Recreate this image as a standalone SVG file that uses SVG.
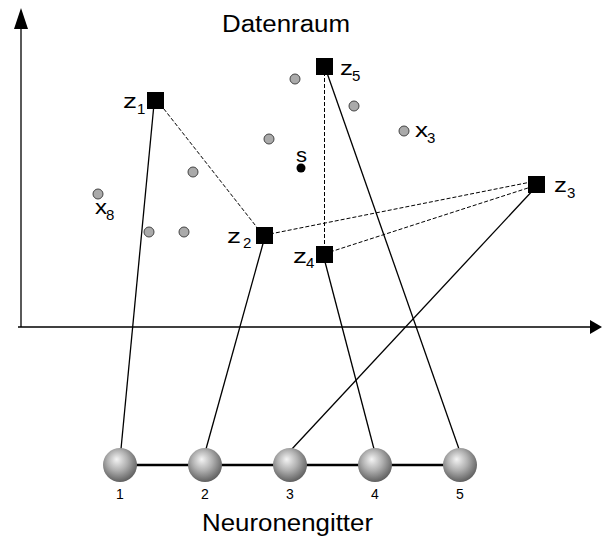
<svg xmlns="http://www.w3.org/2000/svg" width="602" height="541" viewBox="0 0 602 541">
<style>
text{font-family:"Liberation Sans",Arial,sans-serif;fill:#000}
.t{font-size:23px}
.z{font-size:21px}
.sub{font-size:15px}
.n{font-size:14px;text-anchor:middle}
.sol{stroke:#000;stroke-width:1.3;fill:none}
.dash{stroke:#000;stroke-width:1;stroke-dasharray:4 2;fill:none}
.dot{fill:#aaa;stroke:#444;stroke-width:1}
.sq{fill:#000}
.sph{fill:url(#g)}
</style>
<defs>
<radialGradient id="g" cx="0.45" cy="0.4" r="0.6" fx="0.4" fy="0.33">
<stop offset="0" stop-color="#f4f4f4"/>
<stop offset="0.5" stop-color="#b0b0b0"/>
<stop offset="1" stop-color="#606060"/>
</radialGradient>
</defs>
<g id="axes">
<line x1="21" y1="26" x2="21" y2="327" stroke="#000" stroke-width="1.3"/>
<polygon points="21,8 14,29 28,29" fill="#000"/>
<line x1="18" y1="327" x2="592" y2="327" stroke="#000" stroke-width="1.3"/>
<polygon points="602,327 590,320 590,334" fill="#000"/>
</g>
<text class="t" x="222" y="32" textLength="128" lengthAdjust="spacingAndGlyphs">Datenraum</text>
<text class="t" x="202" y="531" textLength="171" lengthAdjust="spacingAndGlyphs">Neuronengitter</text>
<g id="connectors">
<line class="sol" x1="154" y1="104" x2="121" y2="449"/>
<line class="sol" x1="264" y1="240" x2="206" y2="449"/>
<line class="sol" x1="324" y1="258" x2="374" y2="449"/>
<line class="sol" x1="326" y1="70" x2="459" y2="449"/>
<line class="sol" x1="535" y1="188" x2="291" y2="450"/>
<line class="dash" x1="160" y1="104" x2="259" y2="230"/>
<line class="dash" x1="324.5" y1="72" x2="324.5" y2="248"/>
<line class="dash" x1="270" y1="234" x2="531" y2="182"/>
<line class="dash" x1="330" y1="252" x2="531" y2="187"/>
<line x1="120" y1="465" x2="460" y2="465" stroke="#000" stroke-width="2.5"/>
</g>
<g id="points">
<circle class="dot" cx="295" cy="79" r="5"/>
<circle class="dot" cx="354" cy="106" r="5"/>
<circle class="dot" cx="269" cy="139" r="5"/>
<circle class="dot" cx="404" cy="131" r="5"/>
<circle class="dot" cx="193" cy="172" r="5"/>
<circle class="dot" cx="98" cy="194" r="5"/>
<circle class="dot" cx="149" cy="232" r="5"/>
<circle class="dot" cx="184" cy="232" r="5"/>
<circle cx="301" cy="168" r="4.5" fill="#000"/>
<text class="z" x="296" y="162" textLength="11" lengthAdjust="spacingAndGlyphs">s</text>
<text class="z" x="415" y="137" textLength="13" lengthAdjust="spacingAndGlyphs">x</text><text class="sub" x="427" y="143">3</text>
<text class="z" x="95" y="214" textLength="12" lengthAdjust="spacingAndGlyphs">x</text><text class="sub" x="106" y="220">8</text>
</g>
<g id="z1"><rect class="sq" x="147" y="92" width="17" height="17"/><text class="z" x="123" y="108" textLength="14" lengthAdjust="spacingAndGlyphs">z</text><text class="sub" x="137" y="114">1</text></g>
<g id="z2"><rect class="sq" x="256" y="227" width="17" height="17"/><text class="z" x="227" y="243" textLength="14" lengthAdjust="spacingAndGlyphs">z</text><text class="sub" x="243" y="248">2</text></g>
<g id="z3"><rect class="sq" x="528" y="176" width="17" height="17"/><text class="z" x="554" y="192" textLength="13" lengthAdjust="spacingAndGlyphs">z</text><text class="sub" x="567" y="198">3</text></g>
<g id="z4"><rect class="sq" x="316" y="246" width="17" height="17"/><text class="z" x="293" y="263" textLength="14" lengthAdjust="spacingAndGlyphs">z</text><text class="sub" x="306" y="268">4</text></g>
<g id="z5"><rect class="sq" x="316" y="58" width="17" height="17"/><text class="z" x="340" y="75" textLength="13" lengthAdjust="spacingAndGlyphs">z</text><text class="sub" x="352" y="81">5</text></g>
<g id="n1"><circle class="sph" cx="120" cy="465" r="17"/><text class="n" x="120" y="499">1</text></g>
<g id="n2"><circle class="sph" cx="205" cy="465" r="17"/><text class="n" x="205" y="499">2</text></g>
<g id="n3"><circle class="sph" cx="290" cy="465" r="17"/><text class="n" x="290" y="499">3</text></g>
<g id="n4"><circle class="sph" cx="375" cy="465" r="17"/><text class="n" x="375" y="499">4</text></g>
<g id="n5"><circle class="sph" cx="460" cy="465" r="17"/><text class="n" x="460" y="499">5</text></g>
</svg>
